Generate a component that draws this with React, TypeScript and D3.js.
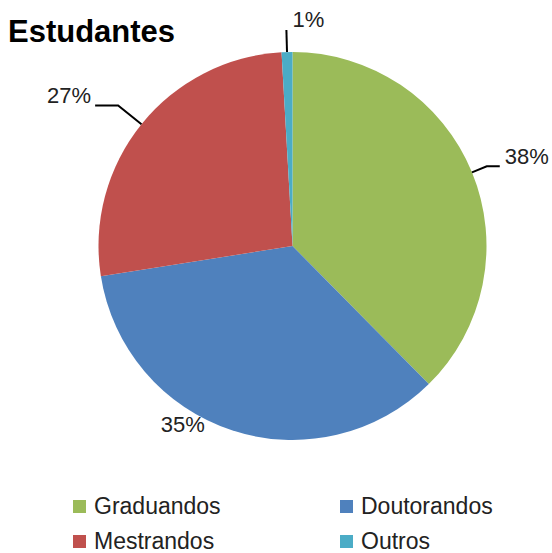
import React from "react";
import * as d3 from "d3";

const categories = ["Graduandos", "Doutorandos", "Mestrandos", "Outros"];
const values = [37.6, 34.9, 26.6, 0.9];
const valueLabels = ["38%", "35%", "27%", "1%"];
const colors = ["#9BBB59", "#4F81BD", "#C0504D", "#4BACC6"];
const title = "Estudantes";

// label layout (leader length outward, horizontal run)
const leadOut = [16, 0, 30, 22];
const leadHoriz = [13, 0, -23, 0];

const W = 552;
const H = 553;
const cx = 292.5;
const cy = 246;
const R = 194;
const FONT = "'Liberation Sans', Arial, sans-serif";

function polar(angle: number, radius: number): [number, number] {
  return [cx + radius * Math.sin(angle), cy - radius * Math.cos(angle)];
}

export default function App() {
  const pie = d3.pie<number>().sort(null).value((d) => d)(values);
  const arc = d3.arc<d3.PieArcDatum<number>>().innerRadius(0).outerRadius(R);

  const legendX = d3.scaleOrdinal<number, number>().domain([0, 1]).range([73, 340]);
  const legendY = d3.scaleOrdinal<number, number>().domain([0, 1]).range([500, 535]);

  return (
    <svg
      width={W}
      height={H}
      style={{ position: "absolute", left: 0, top: 0, background: "#fff" }}
      fontFamily={FONT}
    >
      <text x={8} y={42} fontSize={31} fontWeight="bold" fill="#000">
        {title}
      </text>
      <g transform={`translate(${cx},${cy})`}>
        {pie.map((p, i) => (
          <path key={i} d={arc(p) || ""} fill={colors[i]} />
        ))}
      </g>
      {pie.map((p, i) => {
        const mid = (p.startAngle + p.endAngle) / 2;
        const a = polar(mid, R);
        if (i === 1) {
          // Doutorandos label sits close to the arc, no leader line
          const t = polar(mid + 0.23, R + 17);
          return (
            <text key={i} x={t[0]} y={t[1]} fontSize={22} textAnchor="middle" dominantBaseline="middle" fill="#222">
              {valueLabels[i]}
            </text>
          );
        }
        const e = polar(mid, R + leadOut[i]);
        const end: [number, number] = [e[0] + leadHoriz[i], e[1]];
        const right = end[0] >= cx;
        let tx = end[0] + (right ? 5 : -4);
        let ty = end[1] - 8;
        let anchor = right ? "start" : "end";
        if (i === 3) {
          tx = end[0] + 6;
          ty = end[1] - 9;
          anchor = "start";
        }
        const pts = `${a[0]},${a[1]} ${e[0]},${e[1]} ${end[0]},${end[1]}`;
        return (
          <g key={i}>
            <polyline points={pts} fill="none" stroke="#000" strokeWidth={2} />
            <text x={tx} y={ty} fontSize={22} textAnchor={anchor} dominantBaseline="middle" fill="#222">
              {valueLabels[i]}
            </text>
          </g>
        );
      })}
      {categories.map((c, i) => {
        const col = i % 2;
        const row = Math.floor(i / 2);
        const x = legendX(col);
        const y = legendY(row);
        return (
          <g key={c}>
            <rect x={x} y={y} width={13} height={13} fill={colors[i]} />
            <text x={x + 21} y={y + 14} fontSize={23} fill="#222">
              {c}
            </text>
          </g>
        );
      })}
    </svg>
  );
}
